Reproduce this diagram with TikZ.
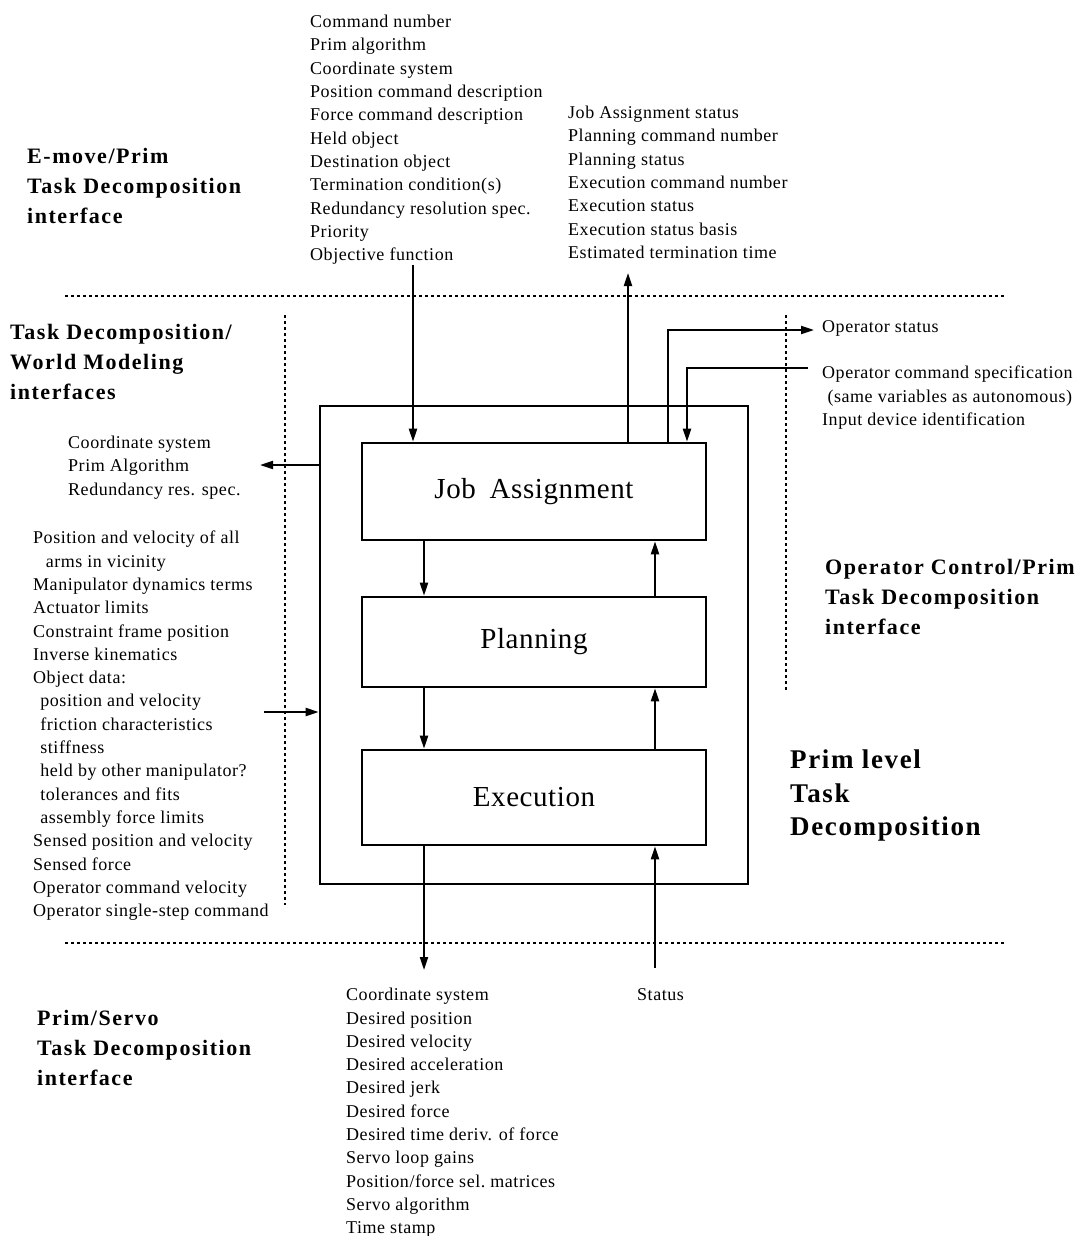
\documentclass[tikz,border=0pt]{standalone}
\usepackage{fontspec}
\setmainfont{Liberation Serif}
\usetikzlibrary{arrows.meta}
\begin{document}
\begin{tikzpicture}[x=1pt,y=-1pt,
  lst/.style={font=\fontsize{18}{23.3}\selectfont\addfontfeatures{LetterSpace=3}, align=left, anchor=north west, inner sep=0pt},
  hdr/.style={font=\bfseries\fontsize{22}{30}\selectfont\addfontfeatures{LetterSpace=7}, align=left, anchor=north west, inner sep=0pt},
  big/.style={font=\bfseries\fontsize{27}{33.5}\selectfont\addfontfeatures{LetterSpace=6}, align=left, anchor=north west, inner sep=0pt},
  blk/.style={draw, line width=2.6pt, minimum width=344pt, inner sep=0pt, font=\fontsize{29}{30}\selectfont\addfontfeatures{LetterSpace=2}},
  outerbox/.style={draw, line width=2.6pt, minimum width=428pt, minimum height=478pt, inner sep=0pt},
  arr/.style={line width=2pt, -{Triangle[length=13pt,width=8pt]}},
  dotl/.style={line width=2pt, dash pattern=on 3pt off 3pt}
]
\useasboundingbox (0,0) rectangle (1084,1236);

% boxes
\node[outerbox] (outer) at (534,645) {};
\node[blk, minimum height=97pt] (ja) at (534,491.5) {Job\hspace{6pt} Assignment};
\node[blk, minimum height=90pt] (pl) at (534,642) {Planning};
\node[blk, minimum height=95pt] (ex) at (534,797.5) {Execution};

% helper coordinates
\coordinate (dn) at (424,0);
\coordinate (up) at (655,0);
\coordinate (inx) at (413,0);
\coordinate (outx) at (628,0);
\coordinate (osx) at (668,0);
\coordinate (ocx) at (687,0);
\coordinate (outtop) at (628,273);
\coordinate (os1) at (668,330);
\coordinate (os2) at (814,330);
\coordinate (oc1) at (808,368);
\coordinate (oc2) at (687,368);
\coordinate (lo) at (260,465);
\coordinate (li) at (264,712);
\coordinate (bo) at (424,970);
\coordinate (bs) at (655,968);

% dotted separators
\draw[dotl] (65,296) -- (1005,296);
\draw[dotl] (65,943) -- (1005,943);
\draw[dotl] (285,315) -- (285,905);
\draw[dotl] (786,315) -- (786,690);

% texts
\node[lst] (toplist) at (310,15) {Command number\\Prim algorithm\\Coordinate system\\Position command description\\Force command description\\Held object\\Destination object\\Termination condition(s)\\Redundancy resolution spec.\\Priority\\Objective function};
\node[lst] (statlist) at (568,106) {Job Assignment status\\Planning command number\\Planning status\\Execution command number\\Execution status\\Execution status basis\\Estimated termination time};
\node[hdr] (emove) at (27,148) {E-move/Prim\\Task Decomposition\\interface};
\node[hdr] (tdwm) at (10,324) {Task Decomposition/\\World Modeling\\interfaces};
\node[lst] (wmout) at (68,436) {Coordinate system\\Prim Algorithm\\Redundancy res. spec.};
\node[lst] (wmin) at (33,531) {Position and velocity of all\\\hspace*{0.7em}arms in vicinity\\Manipulator dynamics terms\\Actuator limits\\Constraint frame position\\Inverse kinematics\\Object data:\\\hspace*{0.4em}position and velocity\\\hspace*{0.4em}friction characteristics\\\hspace*{0.4em}stiffness\\\hspace*{0.4em}held by other manipulator?\\\hspace*{0.4em}tolerances and fits\\\hspace*{0.4em}assembly force limits\\Sensed position and velocity\\Sensed force\\Operator command velocity\\Operator single-step command};
\node[lst] (opstat) at (822,320) {Operator status};
\node[lst] (opcmd) at (822,366) {Operator command specification\\\hspace*{0.3em}(same variables as autonomous)\\Input device identification};
\node[hdr] (ocp) at (825,559) {Operator Control/Prim\\Task Decomposition\\interface};
\node[big] (prim) at (790,750) {Prim level\\Task\\Decomposition};
\node[hdr] (ps) at (37,1010) {Prim/Servo\\Task Decomposition\\interface};
\node[lst] (servo) at (346,988) {Coordinate system\\Desired position\\Desired velocity\\Desired acceleration\\Desired jerk\\Desired force\\Desired time deriv. of force\\Servo loop gains\\Position/force sel.\ matrices\\Servo algorithm\\Time stamp};
\node[lst] (status) at (637,988) {Status};

% connectors
\draw[arr] (toplist.south -| inx) -- (ja.north -| inx);
\draw[arr] (ja.north -| outx) -- (outtop);
\draw[arr] (ja.north -| osx) -- (os1) -- (os2);
\draw[arr] (oc1) -- (oc2) -- (ja.north -| ocx);
\draw[arr] (ja.south -| dn) -- (pl.north -| dn);
\draw[arr] (pl.south -| dn) -- (ex.north -| dn);
\draw[arr] (pl.north -| up) -- (ja.south -| up);
\draw[arr] (ex.north -| up) -- (pl.south -| up);
\draw[arr] (outer.west |- lo) -- (lo);
\draw[arr] (li) -- (outer.west |- li);
\draw[arr] (ex.south -| dn) -- (bo);
\draw[arr] (bs) -- (ex.south -| up);
\end{tikzpicture}
\end{document}
